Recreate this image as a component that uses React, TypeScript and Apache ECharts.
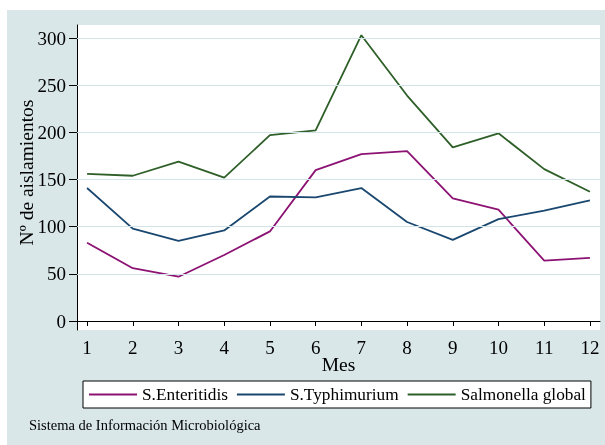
import { useEffect, useRef } from "react";
import * as echarts from "echarts";

const months = [1, 2, 3, 4, 5, 6, 7, 8, 9, 10, 11, 12];
const enteritidis = [83, 56, 47, 70, 95, 160, 177, 180, 130, 118, 64, 67];
const typhimurium = [141, 98, 85, 96, 132, 131, 141, 105, 86, 108, 117, 128];
const salmonellaGlobal = [156, 154, 169, 152, 197, 202, 303, 239, 184, 199, 161, 137];
const yTicks = [0, 50, 100, 150, 200, 250, 300];
const gridValues = [50, 100, 150, 200, 250, 300];
const seriesNames = ["S.Enteritidis", "S.Typhimurium", "Salmonella global"];
const seriesColors = ["#8c1273", "#1a476f", "#2e5f28"];
const yTitle = "Nº de aislamientos";
const xTitle = "Mes";
const note = "Sistema de Información Microbiológica";

const FONT = "Liberation Serif";

export default function App() {
  const ref = useRef<HTMLDivElement>(null);

  useEffect(() => {
    if (!ref.current) return;
    const chart = echarts.init(ref.current, undefined, { renderer: "svg" });
    const allData = [enteritidis, typhimurium, salmonellaGlobal];
    const lineSeries = allData.map((vals, i) => ({
      name: seriesNames[i],
      type: "line",
      data: months.map((m, j) => [m, vals[j]]),
      symbol: "none",
      z: 3,
      lineStyle: { color: seriesColors[i], width: 1.8 },
      itemStyle: { color: seriesColors[i] },
    }));
    chart.setOption({
      animation: false,
      backgroundColor: "transparent",
      graphic: [
        {
          type: "rect",
          z: -10,
          shape: { x: 7, y: 10, width: 600, height: 440 },
          style: { fill: "#d9e7e9" },
          silent: true,
        },
        {
          type: "text",
          left: 29,
          top: 417,
          style: {
            text: note,
            fontFamily: FONT,
            fontSize: 14.5,
            fill: "#000",
          },
        },
      ],
      grid: {
        left: 77,
        top: 25,
        right: 5,
        bottom: 115,
        show: true,
        backgroundColor: "#ffffff",
        borderWidth: 0,
      },
      legend: {
        data: seriesNames,
        left: 83,
        top: 381,
        orient: "horizontal",
        icon: "rect",
        padding: [5, 5, 5, 6],
        itemWidth: 48,
        itemHeight: 2,
        itemGap: 9,
        borderColor: "#000",
        borderWidth: 1,
        backgroundColor: "#ffffff",
        borderRadius: 0,
        textStyle: { fontFamily: FONT, fontSize: 17.3, color: "#000", lineHeight: 17 },
      },
      xAxis: {
        type: "value",
        min: 0.78,
        max: 12.22,
        name: xTitle,
        nameLocation: "middle",
        nameGap: 24,
        nameMoveOverlap: false,
        nameTextStyle: { fontFamily: FONT, fontSize: 19.5, color: "#000" },
        axisLine: { show: true, lineStyle: { color: "#000", width: 1 } },
        axisTick: { show: true, customValues: months, length: 5, lineStyle: { color: "#000" } },
        axisLabel: {
          customValues: months,
          margin: 8,
          fontFamily: FONT,
          fontSize: 19,
          color: "#000",
        },
        splitLine: { show: false },
      },
      yAxis: {
        type: "value",
        min: -9.5,
        max: 313.8,
        name: yTitle,
        nameLocation: "middle",
        nameGap: 41,
        nameMoveOverlap: false,
        nameTextStyle: {
          fontFamily: FONT,
          fontSize: 19.5,
          color: "#000",
          padding: [0, 0, 0, 10],
        },
        axisLine: { show: true, lineStyle: { color: "#000", width: 1 } },
        axisTick: { show: true, customValues: yTicks, length: 8, lineStyle: { color: "#000" } },
        axisLabel: {
          customValues: yTicks,
          margin: 11,
          fontFamily: FONT,
          fontSize: 19,
          color: "#000",
        },
        splitLine: { show: false },
      },
      series: [
        {
          name: "grid-lines",
          type: "line",
          data: [],
          z: 1,
          silent: true,
          markLine: {
            silent: true,
            symbol: "none",
            label: { show: false },
            lineStyle: { color: "#d3e4e8", width: 1.2, type: "solid" },
            data: gridValues.map((v) => ({ yAxis: v })),
          },
        },
        ...lineSeries,
      ],
    });
    return () => chart.dispose();
  }, []);

  return (
    <div
      ref={ref}
      style={{ position: "fixed", left: 0, top: 0, width: 605, height: 445 }}
    />
  );
}
